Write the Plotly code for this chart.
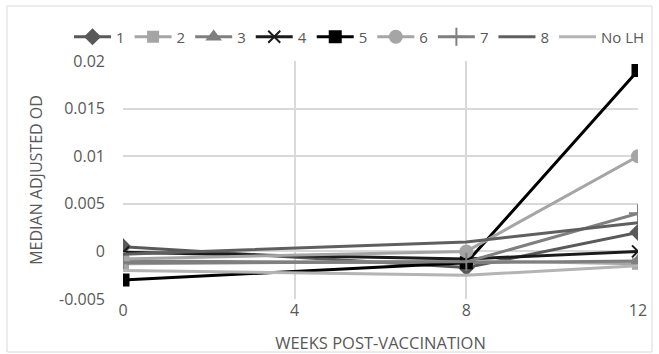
import plotly.graph_objects as go

# Weeks post-vaccination at which samples were taken
weeks = [0, 8, 12]

# Median adjusted OD per group
series_names = ["1", "2", "3", "4", "5", "6", "7", "8", "No LH"]
g1 = [0.0005, -0.0017, 0.002]
g2 = [-0.0013, -0.0010, -0.0013]
g3 = [-0.0010, -0.0012, -0.0010]
g4 = [-0.0001, -0.0008, 0.0]
g5 = [-0.0030, -0.0012, 0.019]
g6 = [-0.0008, 0.0, 0.010]
g7 = [-0.0012, -0.0011, 0.004]
g8 = [-0.0003, 0.0010, 0.003]
g_nolh = [-0.0020, -0.0025, -0.0015]
values = [g1, g2, g3, g4, g5, g6, g7, g8, g_nolh]

x_ticks = [0, 4, 8, 12]
y_ticks = [-0.005, 0, 0.005, 0.01, 0.015, 0.02]
y_tick_text = ["-0.005", "0", "0.005", "0.01", "0.015", "0.02"]

colors = ["#595959", "#a5a5a5", "#7f7f7f", "#1a1a1a", "#000000",
          "#a5a5a5", "#7f7f7f", "#5f5f5f", "#b4b4b4"]
symbols = ["diamond", "square", "triangle-up", "x-thin", "square",
           "circle", "cross-thin", None, None]
sizes = [11, 10, 11, 12, 11, 12, 13, 0, 0]

fig = go.Figure()
for name, ys, c, s, sz in zip(series_names, values, colors, symbols, sizes):
    if s is None:
        fig.add_trace(go.Scatter(x=weeks, y=ys, name=name, mode="lines",
                                 line=dict(color=c, width=3)))
    else:
        fig.add_trace(go.Scatter(
            x=weeks, y=ys, name=name, mode="lines+markers",
            line=dict(color=c, width=3),
            marker=dict(symbol=s, size=sz, color=c,
                        line=dict(color=c, width=2))))

W, H = 659, 354
ml, mr, mt, mb = 123, 21, 61, 55
pw, ph = W - ml - mr, H - mt - mb

def px_x(p):
    return (p - ml) / pw

def px_y(p):
    return (H - mb - p) / ph

fig.update_layout(
    width=W, height=H,
    margin=dict(l=ml, r=mr, t=mt, b=mb),
    paper_bgcolor="white", plot_bgcolor="white",
    font=dict(family="Open Sans, Arial, sans-serif", size=15, color="#595959"),
    showlegend=True,
    legend=dict(orientation="h", x=px_x(69), xanchor="left",
                y=px_y(37), yanchor="middle",
                font=dict(size=15, color="#595959"),
                itemwidth=37, tracegroupgap=0, bgcolor="rgba(0,0,0,0)"),
    xaxis=dict(range=[0, 12], tickvals=x_ticks, ticktext=[str(v) for v in x_ticks],
               showgrid=True, gridcolor="#d9d9d9", gridwidth=1.5,
               zeroline=False, showline=False, ticks="", automargin=False,
               tickfont=dict(size=16, color="#595959"),
               title=dict(text="WEEKS POST-VACCINATION", standoff=18,
                          font=dict(size=16.5, color="#595959"))),
    yaxis=dict(range=[-0.005, 0.02], tickvals=y_ticks, ticktext=y_tick_text,
               showgrid=True, gridcolor="#d9d9d9", gridwidth=1.5,
               zeroline=False, showline=False, ticks="", automargin=False,
               ticklabelstandoff=17,
               tickfont=dict(size=16, color="#595959"),
               title=dict(text="MEDIAN ADJUSTED OD", standoff=12,
                          font=dict(size=16, color="#595959"))),
    shapes=[dict(type="rect", xref="paper", yref="paper",
                 x0=px_x(7), x1=px_x(652), y0=px_y(352), y1=px_y(6),
                 line=dict(color="#d9d9d9", width=1), layer="below")],
)

fig.write_html("out.html")
